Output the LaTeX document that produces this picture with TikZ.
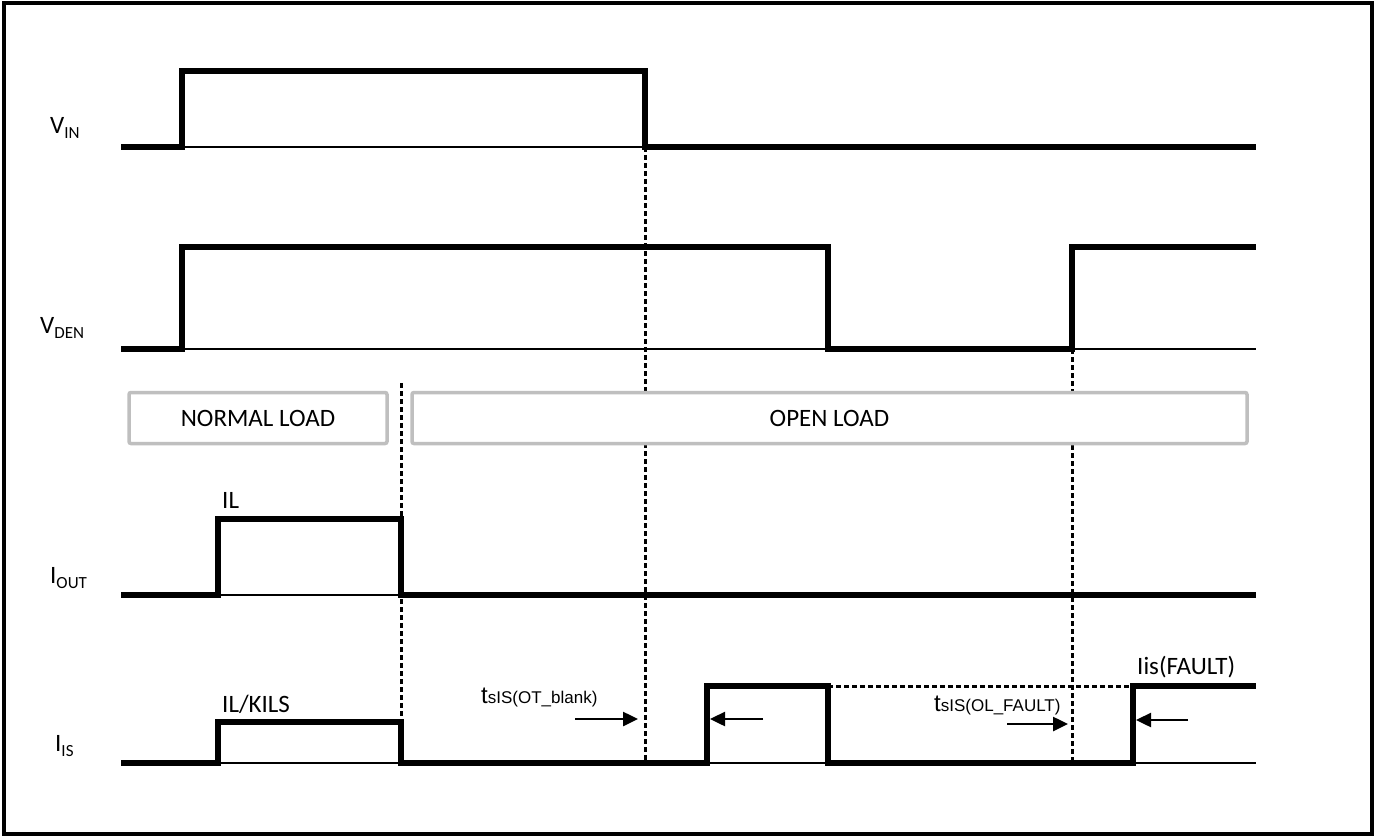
\documentclass[tikz,border=0pt]{standalone}
\usepackage{fontspec}
\setmainfont{Carlito}
\newfontfamily\arialf{Liberation Sans}
\usetikzlibrary{arrows.meta}
\definecolor{boxgray}{RGB}{191,191,191}
\newcommand{\subl}[1]{\raisebox{-5pt}{\fontsize{17}{19}\selectfont #1}}
\begin{document}
\begin{tikzpicture}[x=1pt,y=-1pt,
  sig/.style={line width=6pt,line cap=butt,line join=miter},
  base/.style={line width=2.5pt},
  dsh/.style={line width=3pt,dash pattern=on 5pt off 3pt},
  lbl/.style={font=\fontsize{25}{28}\selectfont,inner sep=0pt},
  phase/.style={draw=boxgray,line width=3.5pt,fill=white,rounded corners=2pt,font=\fontsize{25}{28}\selectfont},
  arr/.style={line width=2.5pt,-{Triangle[length=15pt,width=14pt]}}]
\useasboundingbox (0,0) rectangle (1380,837);
\fill[white] (0,0) rectangle (1380,837);
\draw[line width=4pt] (4,3) rectangle (1372,834);

% thin baselines
\draw[base] (182,147) -- (645,147);
\draw[base] (182,349) -- (828,349);
\draw[base] (1072,349) -- (1256,349);
\draw[base] (218,595) -- (401,595);
\draw[base] (218,763) -- (401,763);
\draw[base] (707,763) -- (828,763);
\draw[base] (1133,763) -- (1256,763);

% dashed verticals
\draw[dsh] (401,383) -- (401,763);
\draw[dsh] (645,147) -- (645,763);
\draw[dsh] (1072,349) -- (1072,763);
\draw[dsh] (828,686) -- (1133,686);

% waveforms
\draw[sig] (121,147) -- (182,147) -- (182,71) -- (645,71) -- (645,147) -- (1256,147);
\draw[sig] (121,349) -- (182,349) -- (182,247) -- (828,247) -- (828,349) -- (1072,349) -- (1072,247) -- (1256,247);
\draw[sig] (121,595) -- (218,595) -- (218,519) -- (401,519) -- (401,595) -- (1256,595);
\draw[sig] (121,763) -- (218,763) -- (218,722) -- (401,722) -- (401,763) -- (707,763) -- (707,686) -- (828,686) -- (828,763) -- (1133,763) -- (1133,686) -- (1256,686);

% phase boxes
\node[phase,minimum width=258pt,minimum height=51pt] (normal) at (258,418) {NORMAL LOAD};
\node[phase,minimum width=835pt,minimum height=51pt] (open) at (829.5,418) {OPEN LOAD};

% signal names
\node[lbl,anchor=west] (vin) at (50,128) {V\subl{IN}};
\node[lbl,anchor=west] (vden) at (40,328) {V\subl{DEN}};
\node[lbl,anchor=west] (iout) at (50,578) {I\subl{OUT}};
\node[lbl,anchor=west] (iis) at (55,746) {I\subl{IS}};

% level labels
\node[lbl,anchor=west] (il) at (222,500) {IL};
\node[lbl,anchor=west] (ilk) at (222,704) {IL/KILS};
\node[lbl,anchor=west] (iisf) at (1137,667) {Iis(FAULT)};

% timing labels
\node[inner sep=0pt,anchor=west,font=\arialf] (tblank) at (481,697)
  {{\fontsize{24}{26}\selectfont t}{\fontsize{17}{18}\selectfont sIS(OT\_blank)}};
\node[inner sep=0pt,anchor=west,font=\arialf] (tfault) at (934,705)
  {{\fontsize{24}{26}\selectfont t}{\fontsize{17}{18}\selectfont sIS(OL\_FAULT)}};

% arrows
\coordinate (a1s) at (575,719); \coordinate (a1e) at (638,719);
\coordinate (a2s) at (763,719); \coordinate (a2e) at (710,719);
\coordinate (a3s) at (1007,724); \coordinate (a3e) at (1068,724);
\coordinate (a4s) at (1188,720); \coordinate (a4e) at (1136,720);
\draw[arr] (a1s) -- (a1e);
\draw[arr] (a2s) -- (a2e);
\draw[arr] (a3s) -- (a3e);
\draw[arr] (a4s) -- (a4e);
\end{tikzpicture}
\end{document}
